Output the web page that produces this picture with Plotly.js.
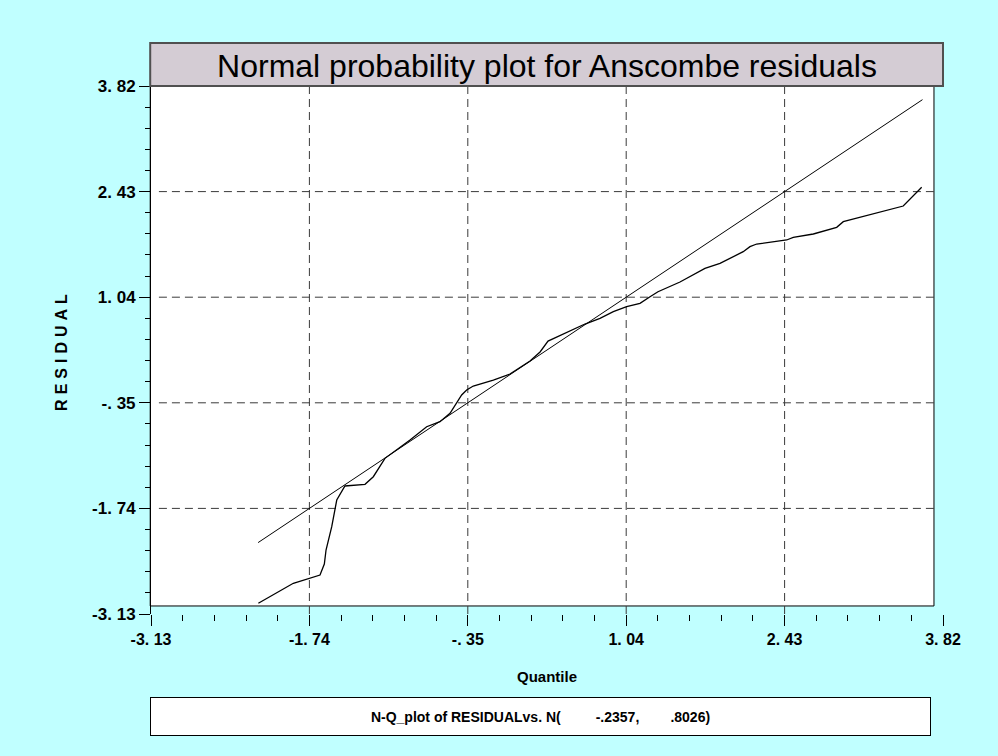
<!DOCTYPE html>
<html><head><meta charset="utf-8">
<script src="https://cdn.plot.ly/plotly-3.0.1.min.js"></script>
<style>html,body{margin:0;padding:0;background:#c0ffff;} #chart{width:998px;height:756px;}</style>
</head><body><div id="chart"></div>
<script>
// Axis ticks (same for both axes)
const tickValues = [-3.13, -1.74, -0.35, 1.04, 2.43, 3.82];
const tickLabels = ["-3. 13", "-1. 74", "-. 35", "1. 04", "2. 43", "3. 82"];

// Normal probability curve (Quantile vs RESIDUAL)
const quantile = [-2.188, -1.881, -1.647, -1.609, -1.594, -1.571, -1.544, -1.500, -1.428, -1.252,
  -1.179, -1.077, -0.857, -0.711, -0.594, -0.506, -0.404, -0.360, -0.302, -0.126,
  0.020, 0.196, 0.284, 0.354, 0.503, 0.678, 0.810, 0.927, 1.044, 1.161,
  1.249, 1.319, 1.512, 1.731, 1.863, 1.951, 2.067, 2.126, 2.185, 2.448,
  2.506, 2.682, 2.887, 2.945, 3.179, 3.471, 3.633];
const residual = [-2.989, -2.726, -2.617, -2.472, -2.288, -2.156, -1.981, -1.630, -1.445, -1.423,
  -1.323, -1.081, -0.840, -0.665, -0.599, -0.488, -0.247, -0.182, -0.129, -0.050,
  0.029, 0.200, 0.319, 0.463, 0.569, 0.687, 0.762, 0.849, 0.915, 0.960,
  1.046, 1.112, 1.240, 1.420, 1.486, 1.552, 1.639, 1.705, 1.740, 1.793,
  1.828, 1.872, 1.960, 2.034, 2.122, 2.240, 2.487];

// Reference line endpoints
const refX = [-2.19, 3.64];
const refY = [-2.19, 3.64];

const titleText = "Normal probability plot for Anscombe residuals";
const xTitle = "Quantile";
const yTitle = "RESIDUAL";
const nb = n => "\u00a0".repeat(n);
const noteText = "N-Q_plot of RESIDUALvs. N(" + nb(9) + "-.2357," + nb(8) + ".8026)";

// minor ticks: 4 between each pair of major ticks
const minorTicks = [];
for (let i = 0; i < tickValues.length - 1; i++) {
  const step = (tickValues[i + 1] - tickValues[i]) / 5;
  for (let j = 1; j < 5; j++) minorTicks.push(+(tickValues[i] + j * step).toFixed(4));
}

const frameRight = 0.9886;   // plot frame right edge (paper)
const frameBottom = 0.0152;  // plot frame bottom edge (paper)

const shapes = [
  {type: 'rect', xref: 'paper', yref: 'paper', x0: -0.001, x1: frameRight, y0: frameBottom, y1: 1,
   fillcolor: '#ffffff', line: {color: '#000', width: 1}, layer: 'below'}
];
const inner = tickValues.slice(1, -1);
inner.forEach(v => {
  shapes.push({type: 'line', xref: 'x', yref: 'paper', x0: v, x1: v, y0: 0, y1: 1,
    line: {color: '#3a3a3a', width: 1, dash: '8px,5px'}, layer: 'below'});
  shapes.push({type: 'line', xref: 'paper', yref: 'y', x0: 0.01, x1: frameRight, y0: v, y1: v,
    line: {color: '#3a3a3a', width: 1, dash: '8px,5px'}, layer: 'below'});
});
shapes.push({type: 'rect', xref: 'paper', yref: 'paper', x0: -0.001, x1: 1.0, y0: 1, y1: 1.0814,
  fillcolor: '#d4ccd4', line: {color: '#505050', width: 2}, layer: 'above'});

const fam = 'Liberation Sans, Arial, sans-serif';

const traces = [
  {x: refX, y: refY, type: 'scatter', mode: 'lines', line: {color: '#000', width: 1}, hoverinfo: 'skip'},
  {x: quantile, y: residual, type: 'scatter', mode: 'lines', line: {color: '#000', width: 1.3}, hoverinfo: 'skip'}
];

const layout = {
  width: 998, height: 756,
  margin: {l: 151, r: 55, t: 86, b: 142},
  paper_bgcolor: '#c0ffff', plot_bgcolor: 'rgba(0,0,0,0)',
  showlegend: false,
  title: {text: titleText, font: {family: fam, size: 32, color: '#000'},
          xref: 'paper', x: 0.5, xanchor: 'center', y: 1 - 66 / 756, yref: 'container', yanchor: 'middle'},
  xaxis: {
    range: [-3.13, 3.82], tickmode: 'array', tickvals: tickValues, ticktext: tickLabels,
    ticks: 'outside', ticklen: 11, tickwidth: 1, tickcolor: '#000',
    showline: false, showgrid: false, zeroline: false,
    tickfont: {family: fam, size: 16, color: '#000', weight: 'bold'},
    minor: {tickmode: 'array', tickvals: minorTicks, ticks: 'outside', ticklen: 6, tickwidth: 1, tickcolor: '#000', showgrid: false},
    title: {text: xTitle, font: {family: fam, size: 15, color: '#000', weight: 'bold'}, standoff: 24}
  },
  yaxis: {
    range: [-3.13, 3.82], tickmode: 'array', tickvals: tickValues, ticktext: tickLabels,
    ticks: 'outside', ticklen: 11, tickwidth: 1, tickcolor: '#000',
    showline: true, linecolor: '#000', linewidth: 1,
    showgrid: false, zeroline: false,
    tickfont: {family: fam, size: 17, color: '#000', weight: 'bold'},
    minor: {tickmode: 'array', tickvals: minorTicks, ticks: 'outside', ticklen: 5, tickwidth: 1, tickcolor: '#000', showgrid: false},
    title: {text: '<span style="letter-spacing:5px">' + yTitle + '</span>',
            font: {family: fam, size: 16, color: '#000', weight: 'bold'}, standoff: 20}
  },
  shapes: shapes,
  annotations: [{
    xref: 'paper', yref: 'paper', x: (540.5 - 151) / 792, y: (614 - 716) / 528,
    xanchor: 'center', yanchor: 'middle', showarrow: false,
    text: noteText, width: 777, height: 35, align: 'center', valign: 'middle',
    bgcolor: '#ffffff', bordercolor: '#000', borderwidth: 1,
    font: {family: fam, size: 14, color: '#000', weight: 'bold'}
  }]
};

Plotly.newPlot('chart', traces, layout, {displayModeBar: false, staticPlot: true});
</script>
</body></html>
